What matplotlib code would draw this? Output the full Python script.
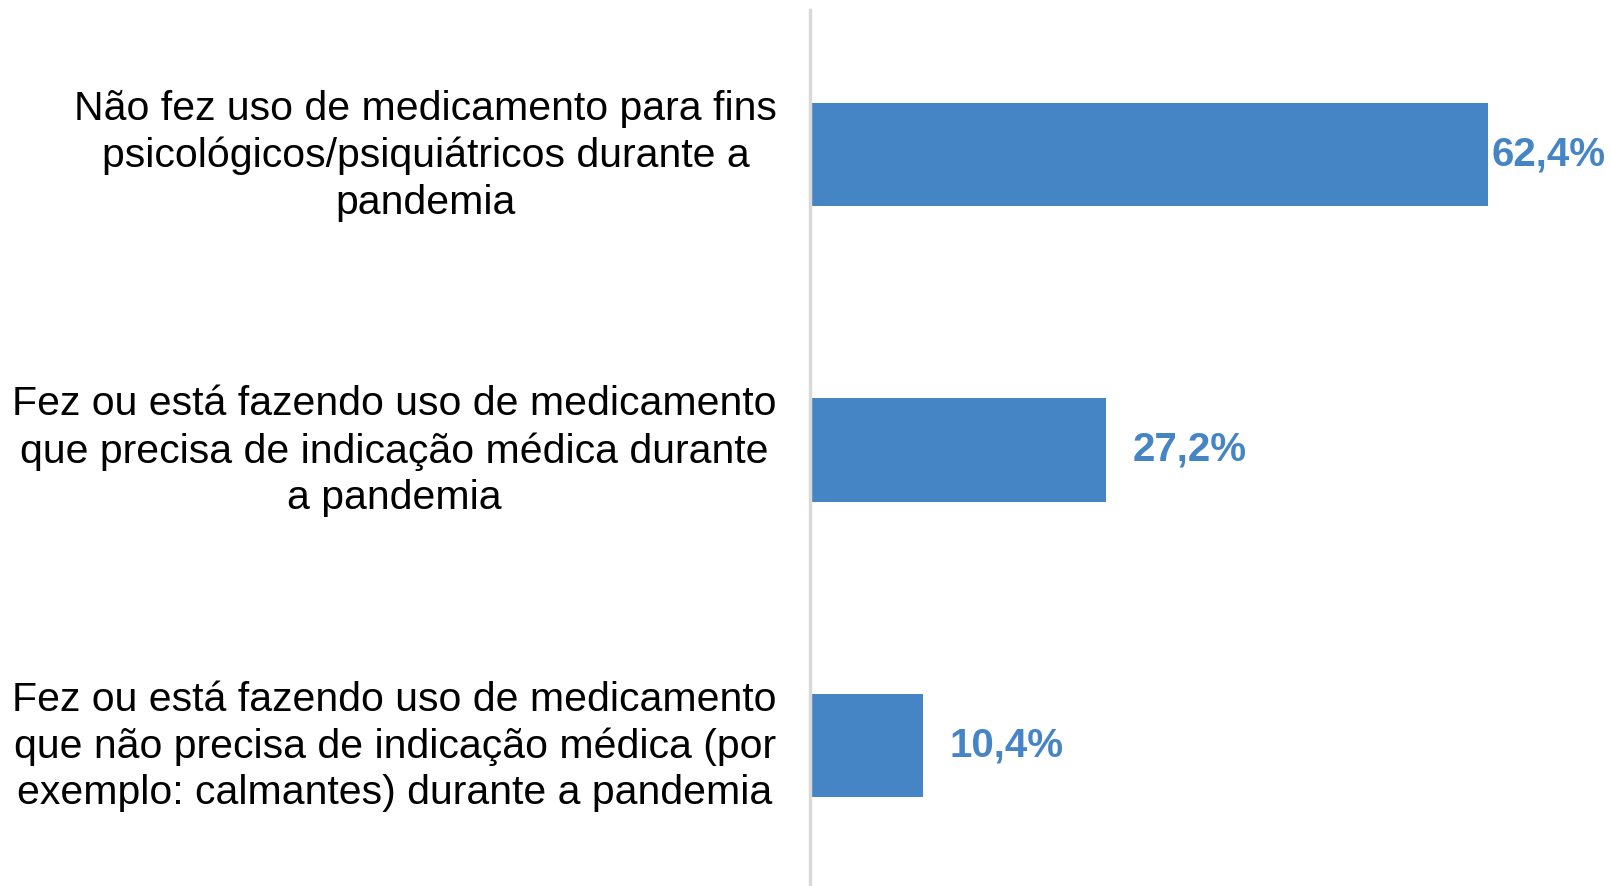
import matplotlib
matplotlib.use("Agg")
import matplotlib.pyplot as plt
from matplotlib.transforms import ScaledTranslation

categorias = [
    "Fez ou está fazendo uso de medicamento\nque não precisa de indicação médica (por\nexemplo: calmantes) durante a pandemia",
    "Fez ou está fazendo uso de medicamento\nque precisa de indicação médica durante\na pandemia",
    "Não fez uso de medicamento para fins\npsicológicos/psiquiátricos durante a\npandemia",
]
valores = [10.4, 27.2, 62.4]
rotulos = ["10,4%", "27,2%", "62,4%"]

azul = "#4585c5"

plt.rcParams["font.family"] = ["Liberation Sans", "DejaVu Sans"]

fig = plt.figure(figsize=(16.11, 8.86), dpi=100)
ax = fig.add_axes([0.503, 0.0, 0.497, 1.0])

pos = range(len(valores))
ax.barh(pos, valores, height=0.35, color=azul)
ax.set_xlim(0, 73.7)
ax.set_ylim(-0.477, 2.524)

ax.set_yticks(list(pos))
ax.set_yticklabels(categorias, fontsize=29.5, multialignment="center", linespacing=1.28)
ax.tick_params(axis="y", length=0, pad=24)
ax.set_xticks([])
# sobe um pouco os textos das categorias
desloc = ScaledTranslation(0, 5 / 72, fig.dpi_scale_trans)
for lbl in ax.get_yticklabels():
    lbl.set_transform(lbl.get_transform() + desloc)

for s in ["top", "right", "bottom"]:
    ax.spines[s].set_visible(False)
ax.spines["left"].set_color("#d9d9d9")
ax.spines["left"].set_linewidth(2.5)
ax.spines["left"].set_bounds(-0.477, 2.49)

# rótulos de valor; o maior fica colado na barra
for i, (v, r) in enumerate(zip(valores, rotulos)):
    dx = 2 if v == max(valores) else 19
    ax.annotate(r, (v, i), xytext=(dx, 0), textcoords="offset points",
                va="center", ha="left", fontsize=29, fontweight="bold", color=azul)

fig.savefig("out.png", dpi=100)
